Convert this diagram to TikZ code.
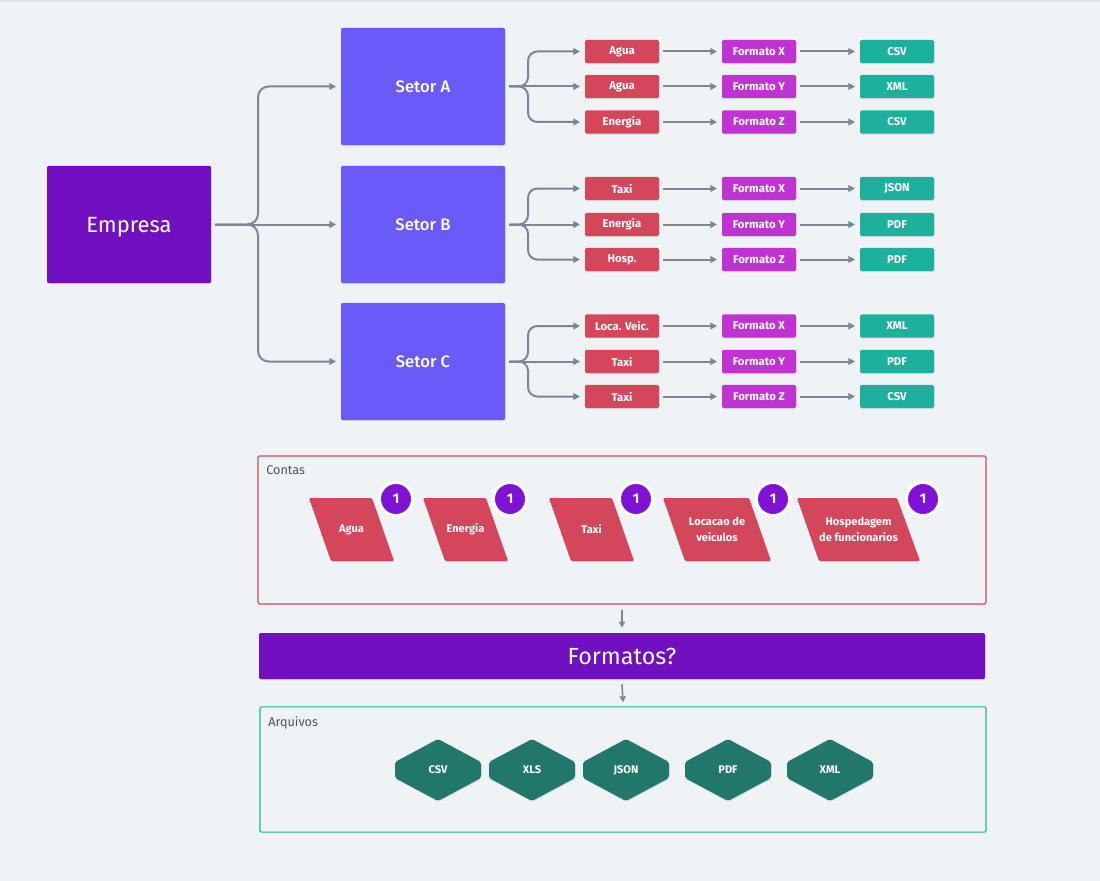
\documentclass[tikz,border=0pt]{standalone}
\usepackage{fontspec}
\setmainfont{Fira Sans}
\newfontfamily\medf{Fira Sans Medium}
\usetikzlibrary{arrows.meta,shadows,calc}
\definecolor{bg}{HTML}{EFF3F6}
\definecolor{topline}{HTML}{DCE1E6}
\definecolor{empc}{HTML}{7010C0}
\definecolor{setc}{HTML}{6A5AF8}
\definecolor{redc}{HTML}{D4465A}
\definecolor{magc}{HTML}{C033D2}
\definecolor{tealc}{HTML}{1DB09C}
\definecolor{hexc}{HTML}{21786A}
\definecolor{linec}{HTML}{7B8794}
\definecolor{badgec}{HTML}{8012D8}
\definecolor{txtc}{HTML}{4A5560}
\tikzset{
  shad/.style={drop shadow={opacity=0.18,shadow xshift=0.4pt,shadow yshift=-0.8pt}},
  bigbox/.style={shad,rounded corners=1.5pt,minimum width=123pt,minimum height=88pt,text=white,inner sep=0pt},
  smallbox/.style={shad,rounded corners=1.2pt,minimum width=55.5pt,minimum height=17.5pt,text=white,inner sep=0pt,font=\bfseries\fontsize{8.5}{9}\selectfont},
  redbox/.style={smallbox,fill=redc},
  magbox/.style={smallbox,fill=magc},
  tealbox/.style={smallbox,fill=tealc},
  arr/.style={draw=linec,line width=1.5pt,-{Triangle[length=5pt,width=5pt]},shorten >=3.5pt,shorten <=3pt},
  darr/.style={draw=linec,line width=1.2pt,-{Triangle[length=4.5pt,width=4.5pt]}},
  para/.style={fill=redc,shad,rounded corners=1pt},
  paratext/.style={text=white,align=center,font=\bfseries\fontsize{8.3}{12}\selectfont,inner sep=0pt},
  badge/.style={circle,fill=badgec,draw=white,line width=2.4pt,minimum size=25pt,inner sep=0pt,text=white,font=\bfseries\fontsize{10.5}{11}\selectfont,drop shadow={opacity=0.2,shadow xshift=0pt,shadow yshift=-0.6pt}},
  hexa/.style={fill=hexc,shad,rounded corners=1.5pt},
  hextext/.style={text=white,font=\bfseries\fontsize{8.3}{9}\selectfont,inner sep=0pt},
  grouplabel/.style={text=txtc,anchor=north west,inner sep=0pt,font=\fontsize{9.5}{11}\selectfont}
}
\begin{document}
\begin{tikzpicture}[x=0.75pt,y=-0.75pt]
\fill[bg] (0,0) rectangle (1100,881);
\fill[topline] (0,0) rectangle (1100,2);
\useasboundingbox (0,0) rectangle (1100,881);

% main boxes
\node[bigbox,fill=empc,text depth=0pt,font=\fontsize{16.5}{18}\selectfont] (emp) at (129,224.5) {Empresa};
\node[bigbox,fill=setc,font=\medf\fontsize{12.5}{14}\selectfont] (sa) at (423,86.5) {Setor A};
\node[bigbox,fill=setc,font=\medf\fontsize{12.5}{14}\selectfont] (sb) at (423,224.5) {Setor B};
\node[bigbox,fill=setc,font=\medf\fontsize{12.5}{14}\selectfont] (sc) at (423,361.5) {Setor C};

% fork from Empresa
\coordinate (fe) at (258,224.5);
\draw[arr,rounded corners=8pt] (emp.east) -- (fe) |- (sa.west);
\draw[arr] (emp.east) -- (sb.west);
\draw[arr,rounded corners=8pt] (emp.east) -- (fe) |- (sc.west);

% rows
\foreach \s/\y/\ya/\yb/\yc/\ra/\rb/\rc/\fa/\fb/\fc/\ta/\tb/\tc in {
  a/86.5/51.5/86.5/122/Agua/Agua/Energia/Formato X/Formato Y/Formato Z/CSV/XML/CSV,
  b/224.5/188.5/224.5/259.5/Taxi/Energia/Hosp./Formato X/Formato Y/Formato Z/JSON/PDF/PDF,
  c/361.5/326/361.5/396.5/Loca. Veic./Taxi/Taxi/Formato X/Formato Y/Formato Z/XML/PDF/CSV}{
  \node[redbox] (r\s1) at (622,\ya) {\ra};
  \node[redbox] (r\s2) at (622,\yb) {\rb};
  \node[redbox] (r\s3) at (622,\yc) {\rc};
  \node[magbox] (f\s1) at (759,\ya) {\fa};
  \node[magbox] (f\s2) at (759,\yb) {\fb};
  \node[magbox] (f\s3) at (759,\yc) {\fc};
  \node[tealbox] (t\s1) at (897,\ya) {\ta};
  \node[tealbox] (t\s2) at (897,\yb) {\tb};
  \node[tealbox] (t\s3) at (897,\yc) {\tc};
  \coordinate (k\s) at (528,\y);
  \draw[arr,rounded corners=7pt] (s\s.east) -- (k\s) |- (r\s1.west);
  \draw[arr] (s\s.east) -- (r\s2.west);
  \draw[arr,rounded corners=7pt] (s\s.east) -- (k\s) |- (r\s3.west);
  \foreach \i in {1,2,3}{
    \draw[arr] (r\s\i.east) -- (f\s\i.west);
    \draw[arr] (f\s\i.east) -- (t\s\i.west);
  }
}

% Contas group
\node[draw=redc,line width=0.8pt,rounded corners=1pt,minimum width=546pt,minimum height=111pt,inner sep=0pt] (contas) at (622,530) {};
\node[grouplabel] (contaslbl) at (266,465.5) {Contas};

\fill[para] (309,498) -- (372,498) -- (394,561) -- (331,561) -- cycle;
\node[paratext] (pagua) at (351.5,529.5) {Agua};
\fill[para] (423,498) -- (486,498) -- (508,561) -- (445,561) -- cycle;
\node[paratext] (penergia) at (465.5,529.5) {Energia};
\fill[para] (549,498) -- (612,498) -- (634,561) -- (571,561) -- cycle;
\node[paratext] (ptaxi) at (591.5,529.5) {Taxi};
\fill[para] (663,498) -- (749,498) -- (771,561) -- (685,561) -- cycle;
\node[paratext] (ploc) at (717,529.5) {Locacao de\\veiculos};
\fill[para] (797,498) -- (897,498) -- (920,561) -- (819,561) -- cycle;
\node[paratext] (phosp) at (858.5,529.5) {Hospedagem\\de funcionarios};

\node[badge] (b1) at (396,499) {1};
\node[badge] (b2) at (510,499) {1};
\node[badge] (b3) at (636,499) {1};
\node[badge] (b4) at (773,499) {1};
\node[badge] (b5) at (923,499) {1};

% Formatos bar
\node[shad,fill=empc,rounded corners=1pt,minimum width=544.5pt,minimum height=34.5pt,inner sep=0pt,text=white,font=\fontsize{17.5}{19}\selectfont] (fmt) at (622,656) {Formatos?};

% Arquivos group
\node[draw=tealc,line width=0.8pt,rounded corners=1pt,minimum width=544.5pt,minimum height=94pt,inner sep=0pt] (arq) at (623,769.5) {};
\node[grouplabel] (arqlbl) at (268,716.5) {Arquivos};

\draw[darr] ($(contas.south -| fmt.north)+(0,5)$) coordinate (d1s) -- ($(fmt.north)+(0,-5)$) coordinate (d1e);
\draw[darr] ($(fmt.south)+(0,5)$) coordinate (d2s) -- ($(arq.north)+(0,-4)$) coordinate (d2e);

\foreach \cx/\lab/\nm in {438/CSV/hcsv,532/XLS/hxls,626/JSON/hjson,728/PDF/hpdf,830/XML/hxml}{
  \fill[hexa] (\cx,739) -- (\cx+43,762) -- (\cx+43,778) -- (\cx,801) -- (\cx-43,778) -- (\cx-43,762) -- cycle;
  \node[hextext] (\nm) at (\cx,770) {\lab};
}
\end{tikzpicture}
\end{document}
